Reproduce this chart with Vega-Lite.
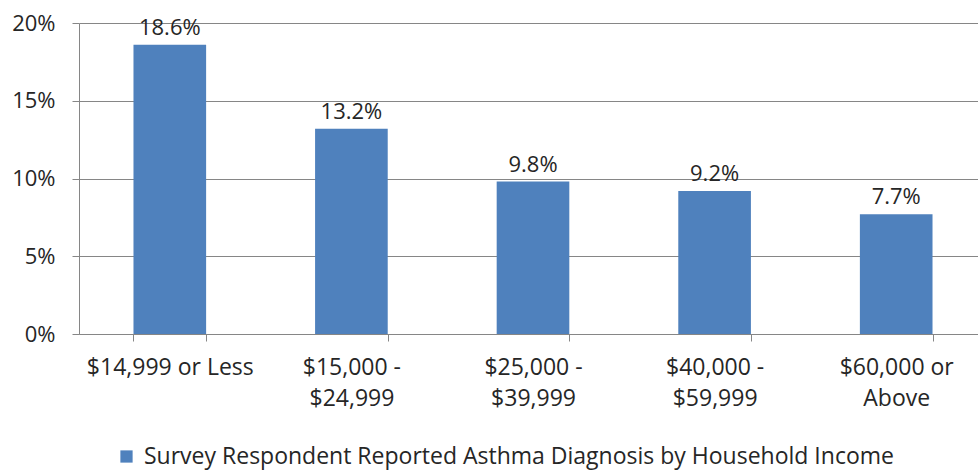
{
  "$schema": "https://vega.github.io/schema/vega-lite/v6.json",
  "width": 899,
  "height": 311,
  "autosize": {"type": "none"},
  "padding": {"left": 79, "top": 23, "right": 0, "bottom": 138},
  "background": "white",
  "config": {
    "view": {"stroke": null},
    "font": "Open Sans",
    "text": {"font": "Open Sans"}
  },
  "data": {
    "values": [
      {"income": "$14,999 or Less", "rate": 0.186, "series": "Survey Respondent Reported Asthma Diagnosis by Household Income"},
      {"income": "$15,000 - $24,999", "rate": 0.132, "series": "Survey Respondent Reported Asthma Diagnosis by Household Income"},
      {"income": "$25,000 - $39,999", "rate": 0.098, "series": "Survey Respondent Reported Asthma Diagnosis by Household Income"},
      {"income": "$40,000 - $59,999", "rate": 0.092, "series": "Survey Respondent Reported Asthma Diagnosis by Household Income"},
      {"income": "$60,000 or Above", "rate": 0.077, "series": "Survey Respondent Reported Asthma Diagnosis by Household Income"}
    ]
  },
  "encoding": {
    "x": {
      "field": "income",
      "type": "nominal",
      "sort": null,
      "scale": {"range": [0, 908], "paddingInner": 0.6, "paddingOuter": 0.3},
      "axis": {
        "title": null,
        "labelAngle": 0,
        "labelFont": "Open Sans",
        "labelFontSize": 23,
        "labelColor": "#262626",
        "labelPadding": 15,
        "labelLineHeight": 31,
        "labelBaseline": "top",
        "tickBand": "extent",
        "tickSize": 7,
        "tickColor": "#868686",
        "domainColor": "#868686",
        "grid": false,
        "labelExpr": "indexof(datum.label, ' - ') > 0 ? [slice(datum.label, 0, indexof(datum.label, ' - ') + 2), slice(datum.label, indexof(datum.label, ' - ') + 3)] : (datum.label == '$60,000 or Above' ? ['$60,000 or', 'Above'] : datum.label)"
      }
    },
    "y": {
      "field": "rate",
      "type": "quantitative",
      "scale": {"domain": [0, 0.2], "nice": false},
      "axis": {
        "title": null,
        "format": ".0%",
        "values": [0, 0.05, 0.1, 0.15, 0.2],
        "labelFont": "Open Sans",
        "labelFontSize": 22,
        "labelColor": "#262626",
        "labelPadding": 17,
        "tickSize": 7,
        "tickColor": "#868686",
        "domainColor": "#868686",
        "gridColor": "#868686",
        "grid": true
      }
    }
  },
  "layer": [
    {
      "mark": {"type": "bar"},
      "encoding": {
        "color": {
          "field": "series",
          "type": "nominal",
          "scale": {"range": ["#4F81BD"]},
          "legend": {
            "title": null,
            "orient": "none",
            "legendX": 36,
            "legendY": 422,
            "symbolType": "square",
            "symbolSize": 150,
            "symbolStrokeWidth": 0,
            "labelFont": "Open Sans",
            "labelFontSize": 23,
            "labelColor": "#262626",
            "labelOffset": 6,
            "labelLimit": 900
          }
        }
      }
    },
    {
      "mark": {"type": "text", "baseline": "bottom", "dy": -5, "fontSize": 22, "font": "Open Sans", "color": "#262626"},
      "encoding": {
        "text": {"field": "rate", "type": "quantitative", "format": ".1%"}
      }
    }
  ]
}
